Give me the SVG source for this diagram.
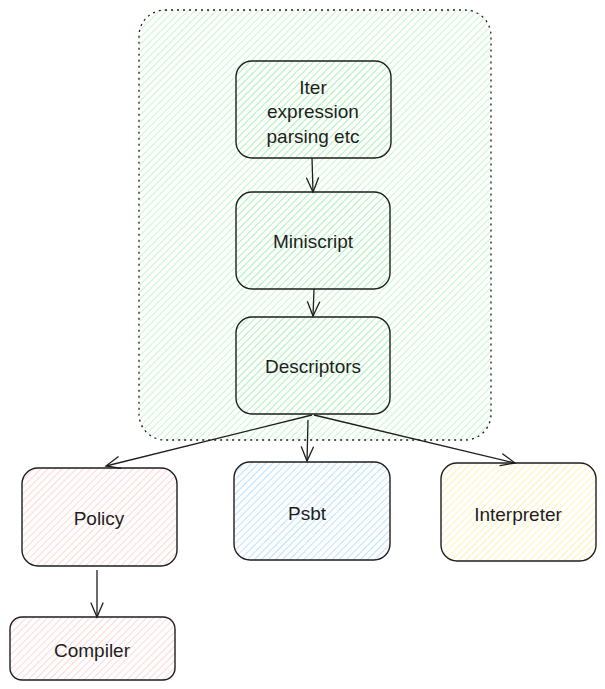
<svg xmlns="http://www.w3.org/2000/svg" width="605" height="689" viewBox="0 0 605 689">
<defs>
<pattern id="hg" width="5" height="5" patternUnits="userSpaceOnUse" patternTransform="rotate(45)"><line x1="0" y1="0" x2="0" y2="5" stroke="#b2f2bb" stroke-width="1.5"/></pattern>
<pattern id="hr" width="5" height="5" patternUnits="userSpaceOnUse" patternTransform="rotate(45)"><line x1="0" y1="0" x2="0" y2="5" stroke="#ffc9c9" stroke-width="1.5"/></pattern>
<pattern id="hb" width="5" height="5" patternUnits="userSpaceOnUse" patternTransform="rotate(45)"><line x1="0" y1="0" x2="0" y2="5" stroke="#a5d8ff" stroke-width="1.5"/></pattern>
<pattern id="hy" width="5" height="5" patternUnits="userSpaceOnUse" patternTransform="rotate(45)"><line x1="0" y1="0" x2="0" y2="5" stroke="#ffec99" stroke-width="1.5"/></pattern>
<marker id="ah" markerWidth="18" markerHeight="16" refX="15" refY="8" orient="auto" markerUnits="userSpaceOnUse"><path d="M1,2 L15,8 L1,14" fill="none" stroke="#1e1e1e" stroke-width="1.3" stroke-linecap="round"/></marker>
</defs>
<style>
.box{stroke:#1e1e1e;stroke-width:1.4}
.cont{stroke:#1e1e1e;stroke-width:1.3;stroke-dasharray:2 4;fill:url(#hg)}
.t{font-family:"Liberation Sans",Arial,sans-serif;font-size:19px;fill:#1e1e1e;text-anchor:middle;dominant-baseline:central}
.c{fill:none;stroke:#1e1e1e;stroke-width:1.3;marker-end:url(#ah)}
</style>
<g id="container"><rect x="139" y="10" width="352" height="430" rx="26" class="cont"/></g>
<g id="iter"><rect x="236" y="61" width="155" height="97" rx="16" class="box" fill="url(#hg)"/><text class="t" x="313" y="87">Iter</text><text class="t" x="313" y="111">expression</text><text class="t" x="313" y="136">parsing etc</text></g>
<g id="miniscript"><rect x="236" y="192" width="154" height="97" rx="16" class="box" fill="url(#hg)"/><text class="t" x="313" y="241">Miniscript</text></g>
<g id="descriptors"><rect x="236" y="317" width="154" height="97" rx="16" class="box" fill="url(#hg)"/><text class="t" x="313" y="366">Descriptors</text></g>
<g id="policy"><rect x="22" y="468" width="155" height="98" rx="16" class="box" fill="url(#hr)"/><text class="t" x="99" y="518">Policy</text></g>
<g id="psbt"><rect x="234" y="462" width="156" height="98" rx="16" class="box" fill="url(#hb)"/><text class="t" x="307" y="513">Psbt</text></g>
<g id="interpreter"><rect x="441" y="463" width="155" height="98" rx="16" class="box" fill="url(#hy)"/><text class="t" x="518" y="514">Interpreter</text></g>
<g id="compiler"><rect x="10" y="617" width="165" height="63" rx="12" class="box" fill="url(#hr)"/><text class="t" x="92" y="650">Compiler</text></g>
<g id="connectors">
<path class="c" d="M312,158 L313,192"/>
<path class="c" d="M314,289 L313,316"/>
<path class="c" d="M312,415 L106,466"/>
<path class="c" d="M308,420 L307,461"/>
<path class="c" d="M314,415 L515,463"/>
<path class="c" d="M97,570 L97,617"/>
</g>
</svg>
